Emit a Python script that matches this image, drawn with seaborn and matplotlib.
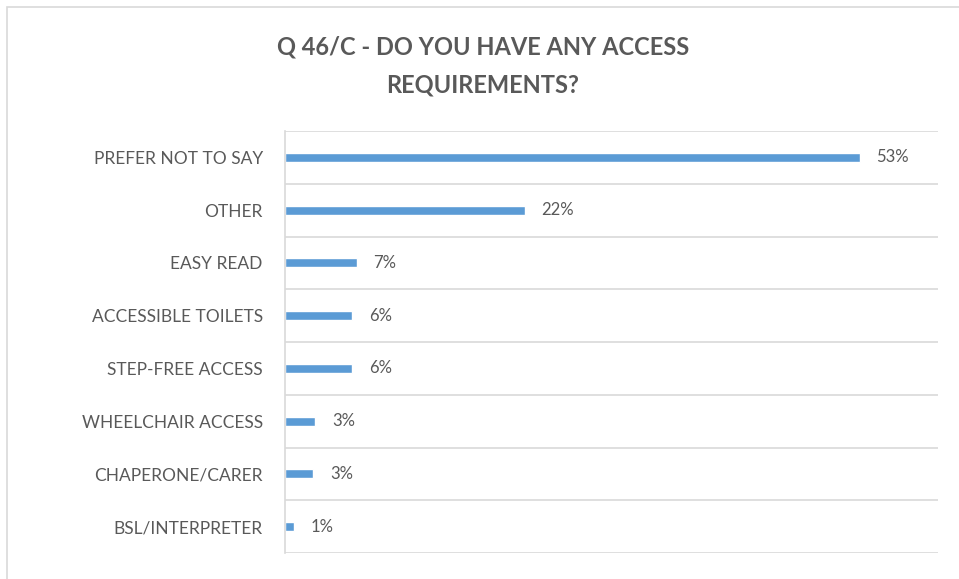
import pandas as pd
import matplotlib.pyplot as plt
import seaborn as sns
from matplotlib.patches import Rectangle

# data
categories = ['PREFER NOT TO SAY', 'OTHER', 'EASY READ', 'ACCESSIBLE TOILETS',
              'STEP-FREE ACCESS', 'WHEELCHAIR ACCESS', 'CHAPERONE/CARER', 'BSL/INTERPRETER']
values = [53.0, 22.1, 6.6, 6.2, 6.2, 2.8, 2.6, 0.8]
labels = ['53%', '22%', '7%', '6%', '6%', '3%', '3%', '1%']

df = pd.DataFrame({'category': categories, 'value': values})

sns.set_style('white')
plt.rcParams['font.family'] = ['Lato', 'DejaVu Sans']

grey = '#595959'
fig = plt.figure(figsize=(9.59, 5.79), dpi=100)
ax = fig.add_axes([285 / 959, 1 - 553 / 579, 653 / 959, 422 / 579])

sns.barplot(data=df, x='value', y='category', orient='h', color='#5B9BD5',
            width=0.17, saturation=1, ax=ax)

ax.set_xlim(0, 60.2)
ax.set_ylim(7.5, -0.5)
ax.set_xlabel('')
ax.set_ylabel('')
ax.set_xticks([])

# gridlines between categories
ax.set_yticks([i - 0.5 for i in range(len(categories) + 1)], minor=True)
ax.grid(True, which='minor', axis='y', color='#D9D9D9', linewidth=1.2)
ax.tick_params(axis='y', which='both', length=0, pad=16)
ax.set_yticklabels(categories, fontsize=12.5, color=grey)

for s in ['top', 'right', 'bottom']:
    ax.spines[s].set_visible(False)
ax.spines['left'].set_color('#D9D9D9')
ax.spines['left'].set_linewidth(1.2)

# value labels
for i, (v, lab) in enumerate(zip(values, labels)):
    ax.annotate(lab, xy=(v, i), xytext=(12, 0), textcoords='offset points',
                va='center', ha='left', fontsize=12, color=grey)

fig.text(483 / 959, 1 - 47 / 579, 'Q 46/C - DO YOU HAVE ANY ACCESS',
         ha='center', va='center', fontsize=17, fontweight='bold', color=grey)
fig.text(483 / 959, 1 - 85 / 579, 'REQUIREMENTS?',
         ha='center', va='center', fontsize=17, fontweight='bold', color=grey)

# outer frame of the chart area
fig.patches.append(Rectangle((7 / 959, -0.1), 1.2, 1.1 - 7 / 579 + 0.0,
                             transform=fig.transFigure, fill=False,
                             edgecolor='#D9D9D9', linewidth=1.2))

fig.savefig('out.png', dpi=100)
